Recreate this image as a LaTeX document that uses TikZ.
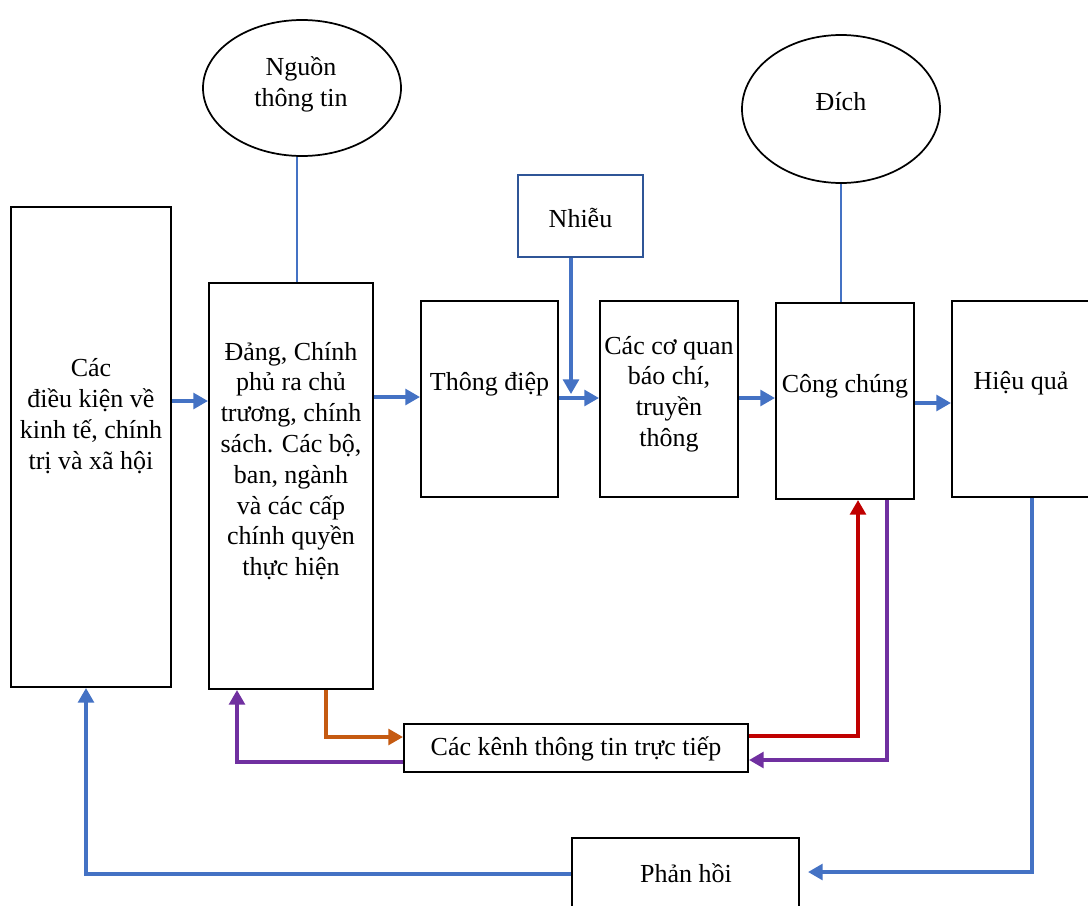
\documentclass[tikz,border=0pt]{standalone}
\usepackage{fontspec}
\setmainfont{Liberation Serif}
\usetikzlibrary{arrows.meta,shapes.geometric}
\definecolor{cblue}{HTML}{4472C4}
\definecolor{cdblue}{HTML}{2F5597}
\definecolor{corange}{HTML}{C55A11}
\definecolor{cpurple}{HTML}{7030A0}
\definecolor{cred}{HTML}{C00000}
\tikzset{
  boxnode/.style={draw=black,line width=1.6pt,rectangle,inner sep=0pt},
  ellnode/.style={draw=black,line width=1.3pt,ellipse,inner sep=0pt},
  lbl/.style={align=center,inner sep=0pt,font=\fontsize{19.5}{23.1}\selectfont},
  conn/.style={line width=2.3pt,-{Triangle[length=11pt,width=12pt]}},
  thinline/.style={draw=cblue,line width=0.9pt}
}
\begin{document}
\begin{tikzpicture}[x=0.75pt,y=-0.75pt]
\useasboundingbox (0,0) rectangle (1088,906);
% boxes
\node[boxnode,minimum width=120pt,minimum height=360pt] (cond) at (91,447) {};
\node[boxnode,minimum width=123pt,minimum height=304.5pt] (dang) at (291,486) {};
\node[boxnode,minimum width=102.75pt,minimum height=147pt] (msg) at (489.5,399) {};
\node[boxnode,draw=cdblue,minimum width=93.75pt,minimum height=61.5pt] (noise) at (580.5,216) {};
\node[boxnode,minimum width=103.5pt,minimum height=147pt] (media) at (669,399) {};
\node[boxnode,minimum width=103.5pt,minimum height=147pt] (public) at (845,401) {};
\node[boxnode,minimum width=111pt,minimum height=147pt] (effect) at (1026,399) {};
\node[boxnode,minimum width=258pt,minimum height=36pt] (direct) at (576,748) {};
\node[boxnode,minimum width=170.25pt,minimum height=69pt] (feedback) at (685.5,884) {};
\node[ellnode,minimum width=148.5pt,minimum height=102pt] (src) at (302,88) {};
\node[ellnode,minimum width=148.5pt,minimum height=111pt] (dest) at (841,109) {};
% texts
\node[lbl] (tcond) at (91,416) {Các\\điều kiện về\\kinh tế, chính\\trị và xã hội};
\node[lbl] (tdang) at (291,461) {Đảng, Chính\\phủ ra chủ\\trương, chính\\sách. Các bộ,\\ban, ngành\\và các cấp\\chính quyền\\thực hiện};
\node[lbl] (tmsg) at (489.5,384) {Thông điệp};
\node[lbl] (tnoise) at (580.5,218) {Nhiễu};
\node[lbl] (tmedia) at (669,394) {Các cơ quan\\báo chí,\\truyền\\thông};
\node[lbl] (tpublic) at (845,386) {Công chúng};
\node[lbl] (teffect) at (1021,383) {Hiệu quả};
\node[lbl] (tdirect) at (576,749) {Các kênh thông tin trực tiếp};
\node[lbl] (tfeedback) at (686,873) {Phản hồi};
\node[lbl] (tsrc) at (301,84) {Nguồn\\thông tin};
\node[lbl] (tdest) at (841,102) {Đích};
% helper coordinates
\coordinate (y401) at (0,401);
\coordinate (y397) at (0,397);
\coordinate (y398) at (0,398);
\coordinate (y403) at (0,403);
\coordinate (nx) at (571,0);
\coordinate (nend) at (571,394);
\coordinate (x297) at (297,0);
\coordinate (x841) at (841,0);
\coordinate (x326) at (326,0);
\coordinate (y737) at (0,737);
\coordinate (y762) at (0,762);
\coordinate (x237) at (237,0);
\coordinate (y736) at (0,736);
\coordinate (x858) at (858,0);
\coordinate (x887) at (887,0);
\coordinate (y760) at (0,760);
\coordinate (x1032) at (1032,0);
\coordinate (y872) at (0,872);
\coordinate (y874) at (0,874);
\coordinate (x86) at (86,0);
% thin lines
\draw[thinline] (src.south -| x297) -- (dang.north -| x297);
\draw[thinline] (dest.south) -- (public.north -| x841);
% main flow
\draw[conn,cblue] (cond.east |- y401) -- (dang.west |- y401);
\draw[conn,cblue] (dang.east |- y397) -- (msg.west |- y397);
\draw[conn,cblue] (msg.east |- y398) -- (media.west |- y398);
\draw[conn,cblue] (noise.south -| nx) -- (nend);
\draw[conn,cblue] (media.east |- y398) -- (public.west |- y398);
\draw[conn,cblue] (public.east |- y403) -- (effect.west |- y403);
% direct channels
\draw[conn,corange] (dang.south -| x326) -- (x326 |- y737) -- (direct.west |- y737);
\draw[conn,cpurple] (direct.west |- y762) -- (x237 |- y762) -- (dang.south -| x237);
\draw[conn,cred] (direct.east |- y736) -- (x858 |- y736) -- (public.south -| x858);
\draw[conn,cpurple] (public.south -| x887) -- (x887 |- y760) -- (direct.east |- y760);
% feedback
\draw[conn,cblue,shorten >=6pt] (effect.south -| x1032) -- (x1032 |- y872) -- (feedback.east |- y872);
\draw[conn,cblue] (feedback.west |- y874) -- (x86 |- y874) -- (cond.south -| x86);
\end{tikzpicture}
\end{document}
